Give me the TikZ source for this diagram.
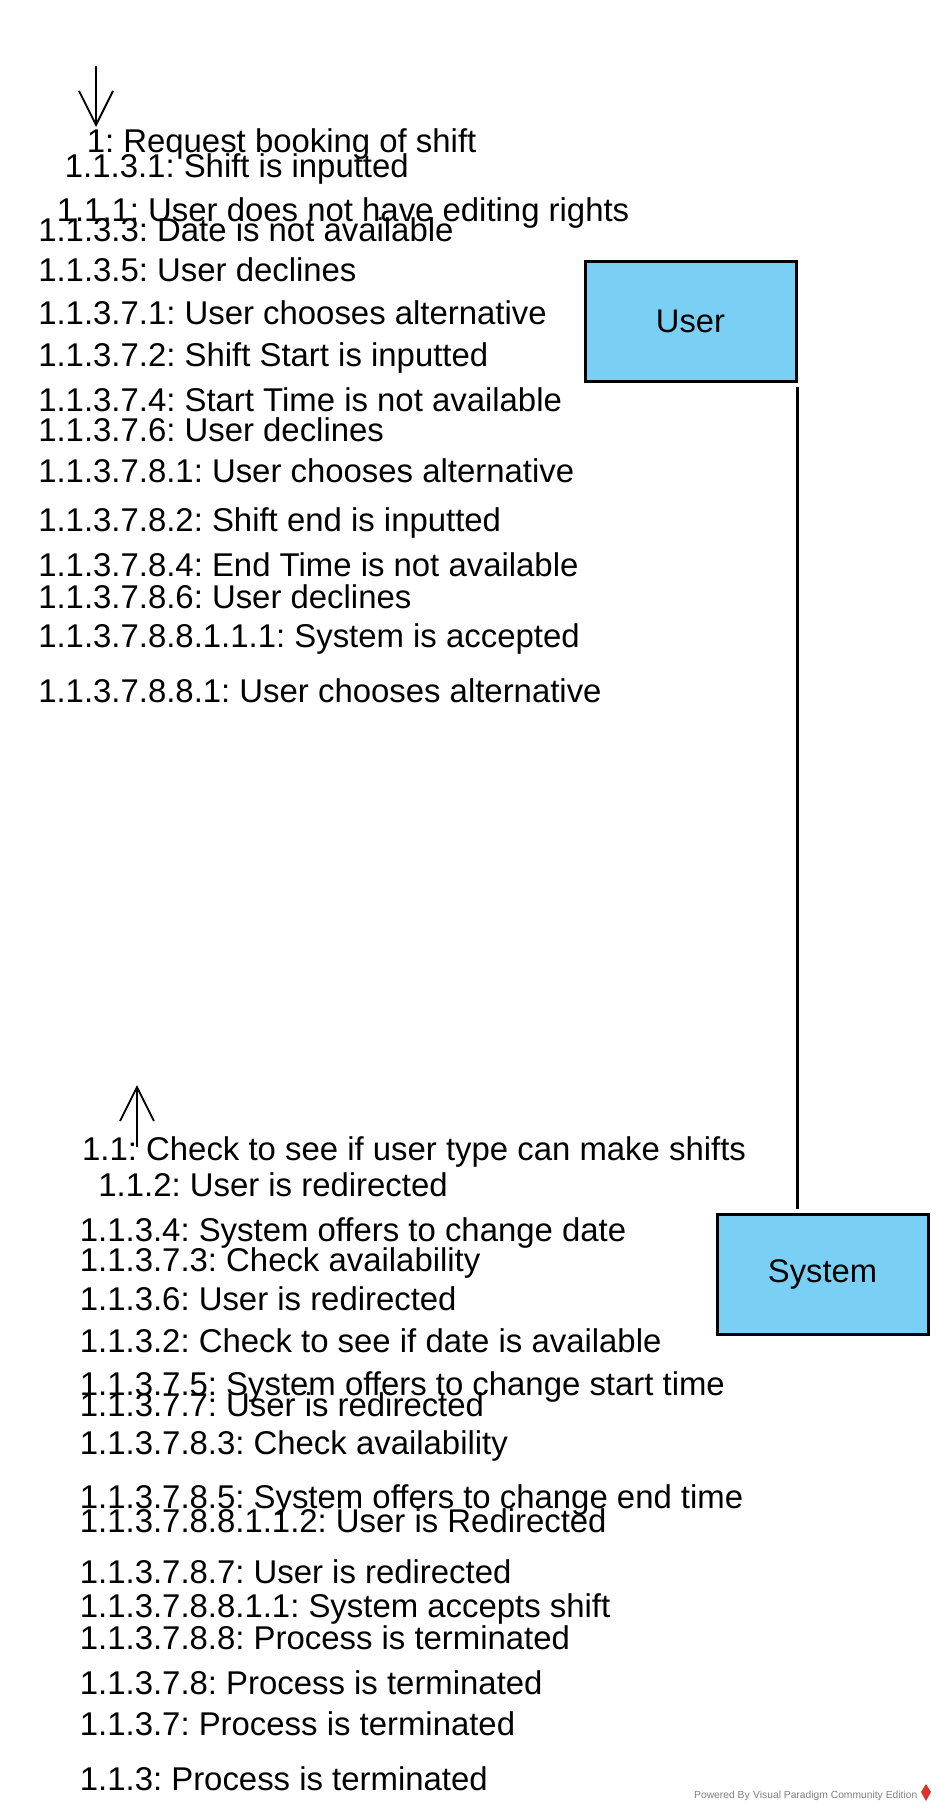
\documentclass[tikz,border=0pt]{standalone}
\usepackage{fontspec}
\setmainfont{Liberation Sans}
\usetikzlibrary{arrows.meta}
\definecolor{boxblue}{HTML}{7ACFF5}
\definecolor{vpred}{HTML}{D9342B}
\frenchspacing
\begin{document}
\begin{tikzpicture}[x=1pt,y=-1pt,
  msg/.style={anchor=base west, inner sep=0pt, font=\fontsize{32.9}{39}\selectfont},
  obj/.style={draw, line width=3pt, fill=boxblue, minimum width=211pt, minimum height=120pt, inner sep=0pt, font=\fontsize{32.7}{39}\selectfont},
  flow/.style={line width=1.8pt, -{Straight Barb[length=34pt,width=34pt,line width=1.8pt]}},
  link/.style={line width=2.6pt}]
\useasboundingbox[fill=white] (0,0) rectangle (939,1812);
% objects
\node[obj] (user) at (690.5,321) {User};
\node[obj] (system) at (822.5,1274) {System};
\draw[link] ([yshift=-4pt]user.south east) -- ([yshift=4pt]user.south east |- system.north);
% message arrows
\coordinate (d1s) at (96,66);
\coordinate (d1e) at (96,127);
\draw[flow] (d1s) -- (d1e);
\coordinate (u1s) at (137,1147);
\coordinate (u1e) at (137,1085);
\draw[flow] (u1s) -- (u1e);
% top labels
\node[msg] (m1) at (86.6,152.4) {1: Request booking of shift};
\node[msg] (m1131) at (64.7,177.8) {1.1.3.1: Shift is inputted};
\node[msg] (m111) at (56.6,221.7) {1.1.1: User does not have editing rights};
\node[msg] (m1133) at (38.1,241.3) {1.1.3.3: Date is not available};
\node[msg] (m1135) at (38.1,281.8) {1.1.3.5: User declines};
\node[msg] (m11371) at (38.1,324.5) {1.1.3.7.1: User chooses alternative};
\node[msg] (m11372) at (38.1,366.1) {1.1.3.7.2: Shift Start is inputted};
\node[msg] (m11374) at (38.1,411.1) {1.1.3.7.4: Start Time is not available};
\node[msg] (m11376) at (38.1,441.2) {1.1.3.7.6: User declines};
\node[msg] (m113781) at (38.1,482.7) {1.1.3.7.8.1: User chooses alternative};
\node[msg] (m113782) at (38.1,531.3) {1.1.3.7.8.2: Shift end is inputted};
\node[msg] (m113784) at (38.1,576.3) {1.1.3.7.8.4: End Time is not available};
\node[msg] (m113786) at (38.1,608.6) {1.1.3.7.8.6: User declines};
\node[msg] (m113788111) at (38.1,647.9) {1.1.3.7.8.8.1.1.1: System is accepted};
\node[msg] (m1137881) at (38.1,702.2) {1.1.3.7.8.8.1: User chooses alternative};
% bottom labels
\node[msg] (m11) at (82,1160.7) {1.1: Check to see if user type can make shifts};
\node[msg] (m112) at (98.2,1196.5) {1.1.2: User is redirected};
\node[msg] (m1134) at (79.7,1241.6) {1.1.3.4: System offers to change date};
\node[msg] (m11373) at (79.7,1271.6) {1.1.3.7.3: Check availability};
\node[msg] (m1136) at (79.7,1310.9) {1.1.3.6: User is redirected};
\node[msg] (m1132) at (79.7,1352.5) {1.1.3.2: Check to see if date is available};
\node[msg] (m11375) at (79.7,1395.2) {1.1.3.7.5: System offers to change start time};
\node[msg] (m11377) at (79.7,1416) {1.1.3.7.7: User is redirected};
\node[msg] (m113783) at (79.7,1454.1) {1.1.3.7.8.3: Check availability};
\node[msg] (m113785) at (79.7,1508.4) {1.1.3.7.8.5: System offers to change end time};
\node[msg] (m113788112) at (79.7,1532.6) {1.1.3.7.8.8.1.1.2: User is Redirected};
\node[msg] (m113787) at (79.7,1583.5) {1.1.3.7.8.7: User is redirected};
\node[msg] (m11378811) at (79.7,1617) {1.1.3.7.8.8.1.1: System accepts shift};
\node[msg] (m113788) at (79.7,1649.3) {1.1.3.7.8.8: Process is terminated};
\node[msg] (m11378) at (79.7,1694.3) {1.1.3.7.8: Process is terminated};
\node[msg] (m1137) at (79.7,1735.9) {1.1.3.7: Process is terminated};
\node[msg] (m113) at (79.7,1790.2) {1.1.3: Process is terminated};
% watermark
\node[anchor=base west, inner sep=0pt, font=\fontsize{10.3}{11}\selectfont, text=gray] (wm) at (694,1798) {Powered By\,\,Visual Paradigm Community Edition};
\fill[vpred] (926,1784) -- (931,1792) -- (926,1801) -- (921,1792) -- cycle;
\end{tikzpicture}
\end{document}
